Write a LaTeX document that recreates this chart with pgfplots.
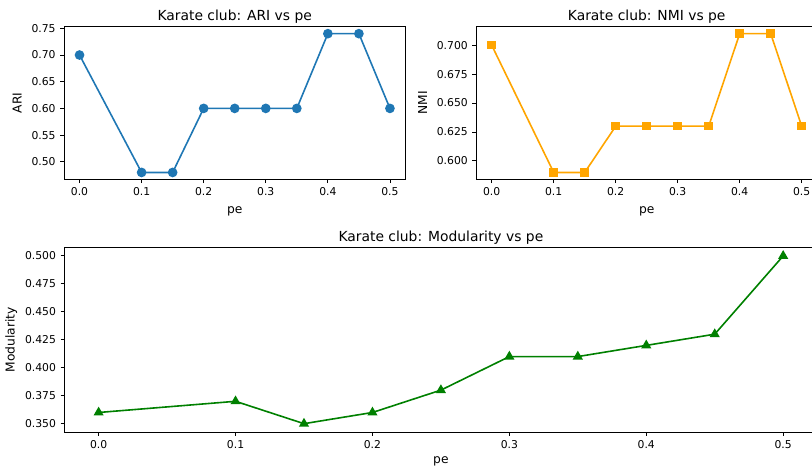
\documentclass[border=0pt]{standalone}
\usepackage{pgfplots}
\pgfplotsset{compat=1.18}
\usepackage{fontspec}
\setmainfont{DejaVu Sans}
\definecolor{mplblue}{HTML}{1F77B4}
\definecolor{mplorange}{HTML}{FFA500}
\definecolor{mplgreen}{HTML}{008000}
\newcommand{\tickfont}{\fontsize{8.1}{9.7}\selectfont}
\newcommand{\labelfont}{\fontsize{9.2}{11}\selectfont}
\newcommand{\titlefont}{\fontsize{10.4}{12.5}\selectfont}
\pgfplotsset{
  mystyle/.style={
    scale only axis,
    axis line style={black, line width=0.65pt},
    tick style={black, line width=0.65pt},
    major tick length=2.8pt,
    tick align=outside,
    tick pos=left,
    xmin=-0.025, xmax=0.525,
    xtick={0,0.1,0.2,0.3,0.4,0.5},
    xticklabel style={/pgf/number format/.cd, fixed, fixed zerofill, precision=1, assume math mode=true},
    ticklabel style={font=\tickfont},
    every axis title shift=0pt,
    title style={font=\titlefont, anchor=base, yshift=0pt},
    xlabel style={font=\labelfont, anchor=base},
    ylabel style={font=\labelfont, anchor=base, rotate=0},
    /pgf/number format/assume math mode=true,
  }
}
\begin{document}
\begin{tikzpicture}
\useasboundingbox (0,0) rectangle (609pt,354.75pt);
\clip (0,0) rectangle (609pt,354.75pt);
% ARI
\begin{axis}[mystyle,
  at={(48pt,334.7pt)}, anchor=north west,
  width=256.1pt, height=114.5pt,
  ymin=0.467, ymax=0.753,
  ytick={0.50,0.55,0.60,0.65,0.70,0.75},
  yticklabel style={/pgf/number format/.cd, fixed, fixed zerofill, precision=2, assume math mode=true},
  title={Karate club: ARI vs pe},
  title style={at={(axis description cs:0.5,1.043)}},
  xlabel={pe}, xlabel style={at={(axis description cs:0.5,-0.221)}},
  ylabel={ARI}, ylabel style={at={(axis description cs:-0.124,0.5)}},
]
\addplot[color=mplblue, line width=1.2pt, mark=*, mark size=3pt, mark options={solid, fill=mplblue, draw=mplblue}]
coordinates {(0,0.70) (0.1,0.48) (0.15,0.48) (0.2,0.60) (0.25,0.60) (0.3,0.60) (0.35,0.60) (0.4,0.74) (0.45,0.74) (0.5,0.60)};
\end{axis}
% NMI
\begin{axis}[mystyle,
  at={(357.15pt,334.7pt)}, anchor=north west,
  width=255.75pt, height=114.5pt,
  ymin=0.584, ymax=0.716,
  ytick={0.600,0.625,0.650,0.675,0.700},
  yticklabel style={/pgf/number format/.cd, fixed, fixed zerofill, precision=3, assume math mode=true},
  title={Karate club: NMI vs pe},
  title style={at={(axis description cs:0.5,1.043)}},
  xlabel={pe}, xlabel style={at={(axis description cs:0.5,-0.221)}},
  ylabel={NMI}, ylabel style={at={(axis description cs:-0.1437,0.5)}},
]
\addplot[color=mplorange, line width=1.2pt, mark=square*, mark size=2.6pt, mark options={solid, fill=mplorange, draw=mplorange}]
coordinates {(0,0.70) (0.1,0.59) (0.15,0.59) (0.2,0.63) (0.25,0.63) (0.3,0.63) (0.35,0.63) (0.4,0.71) (0.45,0.71) (0.5,0.63)};
\end{axis}
% Modularity
\begin{axis}[mystyle,
  at={(48.3pt,169.1pt)}, anchor=north west,
  width=564.75pt, height=138.4pt,
  ymin=0.3425, ymax=0.5075,
  ytick={0.350,0.375,0.400,0.425,0.450,0.475,0.500},
  yticklabel style={/pgf/number format/.cd, fixed, fixed zerofill, precision=3, assume math mode=true},
  title={Karate club: Modularity vs pe},
  title style={at={(axis description cs:0.5,1.035)}},
  xlabel={pe}, xlabel style={at={(axis description cs:0.5,-0.168)}},
  ylabel={Modularity}, ylabel style={at={(axis description cs:-0.066,0.5)}},
]
\addplot[color=mplgreen, line width=1.2pt, mark=triangle*, mark size=3.2pt, mark options={solid, fill=mplgreen, draw=mplgreen}]
coordinates {(0,0.36) (0.1,0.37) (0.15,0.35) (0.2,0.36) (0.25,0.38) (0.3,0.41) (0.35,0.41) (0.4,0.42) (0.45,0.43) (0.5,0.50)};
\end{axis}
\end{tikzpicture}
\end{document}
